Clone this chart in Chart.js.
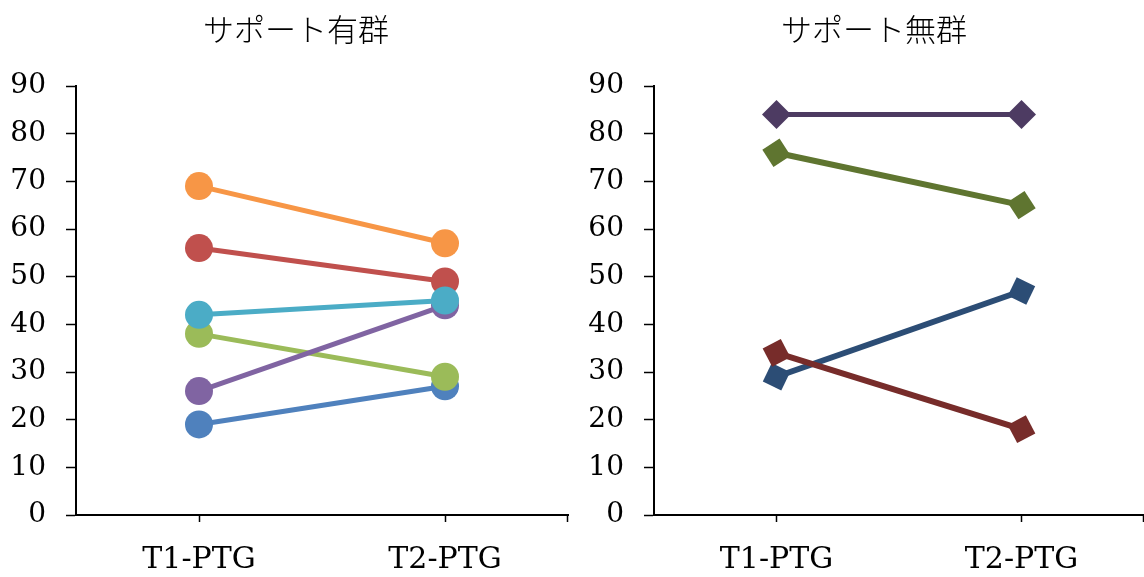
<!DOCTYPE html>
<html>
<head>
<meta charset="utf-8">
<script src="https://cdn.jsdelivr.net/npm/chart.js@4/dist/chart.umd.min.js"></script>
<style>
  html, body { margin: 0; padding: 0; background: #fff; }
  #wrap { width: 1144px; height: 577px; display: flex; overflow: hidden; }
  canvas { display: block; }
</style>
</head>
<body>
<div id="wrap">
  <canvas id="left" width="572" height="577"></canvas>
  <canvas id="right" width="572" height="577"></canvas>
</div>
<script>
// Time points and tick values
const timeLabels = ['T1-PTG', 'T2-PTG'];
const yTicks = { min: 0, max: 90, step: 10 };

// サポート有群 (six participants)
const withSupportTitle = 'サポート有群';
const withBlue   = [19, 27];
const withRed    = [56, 49];
const withGreen  = [38, 29];
const withPurple = [26, 44];
const withCyan   = [42, 45];
const withOrange = [69, 57];

// サポート無群 (four participants)
const withoutTitle = 'サポート無群';
const withoutBlue   = [29, 47];
const withoutRed    = [34, 18];
const withoutGreen  = [76, 65];
const withoutPurple = [84, 84];

const serif = '"DejaVu Serif", "Liberation Serif", serif';
const jp = '"Noto Sans CJK JP", "Noto Sans CJK SC", sans-serif';

// Diamonds lean with the segment they sit on
function segmentAngle(ctx) {
  const chart = ctx.chart;
  const xs = chart.scales.x, ys = chart.scales.y;
  const d = chart.data.datasets[ctx.datasetIndex].data;
  if (!xs || !ys || !d) return 0;
  const dy = ys.getPixelForValue(d[1]) - ys.getPixelForValue(d[0]);
  const dx = xs.getPixelForValue(1) - xs.getPixelForValue(0);
  return Math.atan2(dy, dx) * 180 / Math.PI;
}

// Panel heading plus a small downward tick at the right end of the category axis
const panelDecor = {
  id: 'panelDecor',
  afterDraw(chart, args, opts) {
    const c = chart.ctx;
    const x = chart.scales.x;
    c.save();
    c.strokeStyle = '#000';
    c.lineWidth = 1.5;
    c.beginPath();
    c.moveTo(x.right - 0.5, x.top);
    c.lineTo(x.right - 0.5, x.top + 7);
    c.stroke();

    c.fillStyle = '#000';
    c.font = '300 31px ' + jp;
    c.textAlign = 'center';
    c.textBaseline = 'middle';
    c.fillText(opts.text, opts.cx, opts.cy);
    c.restore();
  }
};

function series(data, color, shape, width, radius) {
  return {
    data,
    borderColor: color,
    backgroundColor: color,
    borderWidth: width,
    pointStyle: shape,
    pointRadius: radius,
    pointHoverRadius: radius,
    pointBorderWidth: 0,
    pointBackgroundColor: color,
    pointRotation: shape === 'rectRot' ? segmentAngle : 0,
    tension: 0,
    fill: false
  };
}

function panel(id, title, titleX, datasets, yWidth, rightPad) {
  // later series are painted on top
  datasets.forEach((d, i) => { d.order = datasets.length - i; });
  return new Chart(document.getElementById(id), {
    type: 'line',
    data: { labels: timeLabels, datasets },
    options: {
      responsive: false,
      animation: false,
      devicePixelRatio: 1,
      layout: { autoPadding: false, padding: { left: 0, right: rightPad, top: 86, bottom: 0 } },
      plugins: {
        legend: { display: false },
        tooltip: { enabled: false },
        title: { display: false },
        panelDecor: { text: title, cx: titleX, cy: 29 }
      },
      scales: {
        x: {
          type: 'category',
          offset: true,
          afterFit(s) { s.height = 62; s.paddingLeft = 0; s.paddingRight = 0; },
          grid: {
            offset: false,
            drawOnChartArea: false,
            drawTicks: true,
            tickLength: 7,
            tickColor: '#000',
            tickWidth: 1.5
          },
          border: { display: true, color: '#000', width: 2 },
          ticks: {
            color: '#000',
            padding: 20,
            font: { family: serif, size: 30 }
          }
        },
        y: {
          min: yTicks.min,
          max: yTicks.max,
          afterFit(s) { s.width = yWidth; s.paddingTop = 0; s.paddingBottom = 0; },
          grid: {
            drawOnChartArea: false,
            drawTicks: true,
            tickLength: 10,
            tickColor: '#000',
            tickWidth: 1.5
          },
          border: { display: true, color: '#000', width: 2 },
          ticks: {
            stepSize: yTicks.step,
            color: '#000',
            padding: 20,
            font: { family: serif, size: 28 }
          }
        }
      }
    },
    plugins: [panelDecor]
  });
}

panel('left', withSupportTitle, 296, [
  series(withBlue,   '#4F81BD', 'circle', 5, 14),
  series(withRed,    '#C0504D', 'circle', 5, 14),
  series(withGreen,  '#9BBB59', 'circle', 5, 14),
  series(withPurple, '#8064A2', 'circle', 5, 14),
  series(withCyan,   '#4BACC6', 'circle', 5, 14),
  series(withOrange, '#F79646', 'circle', 5, 14)
], 76, 4);

panel('right', withoutTitle, 302, [
  series(withoutBlue,   '#2C4D75', 'rectRot', 6, 14.5),
  series(withoutRed,    '#772C2A', 'rectRot', 6, 14.5),
  series(withoutGreen,  '#5F7530', 'rectRot', 6, 14.5),
  series(withoutPurple, '#4D3B62', 'rectRot', 5, 14.5)
], 82, -2);
</script>
</body>
</html>
